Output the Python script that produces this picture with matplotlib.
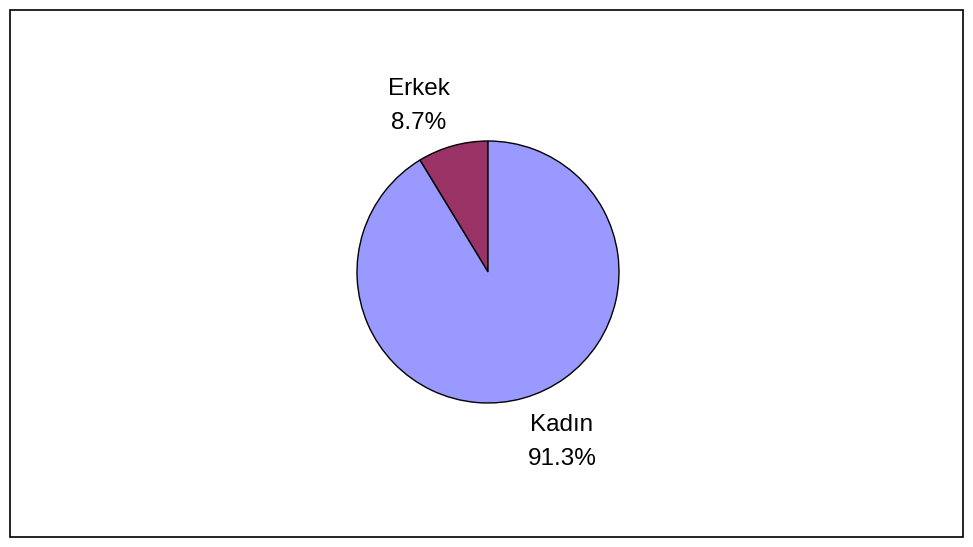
import matplotlib.pyplot as plt
from matplotlib.patches import Rectangle

plt.rcParams["font.family"] = ["Liberation Sans", "DejaVu Sans"]

# veri
labels = ["Erkek", "Kadın"]
values = [8.7, 91.3]
colors = ["#993366", "#9999FF"]

W, H = 973, 547
fig = plt.figure(figsize=(W / 100, H / 100), dpi=100)
ax = fig.add_axes([0, 0, 1, 1])

# dış çerçeve
fig.patches.append(Rectangle((10 / W, 10 / H), 953 / W, 527 / H, transform=fig.transFigure,
                             fill=False, edgecolor="black", linewidth=1.2))

cx, cy, r = 488, H - 272, 131
ax.pie(values, colors=colors, startangle=90, counterclock=True, center=(cx, cy), radius=r,
       wedgeprops=dict(edgecolor="black", linewidth=1.0), frame=True)
ax.set_xlim(0, W)
ax.set_ylim(0, H)
ax.set_aspect("equal")
ax.axis("off")

# etiketler
label_pos = [(419, H - 106), (562, H - 442)]
for (x, y), lab, v in zip(label_pos, labels, values):
    ax.text(x, y, f"{lab}\n{v:.1f}%", ha="center", va="center", fontsize=17.5, linespacing=1.65)

plt.savefig("out.png", dpi=100, facecolor="white")
